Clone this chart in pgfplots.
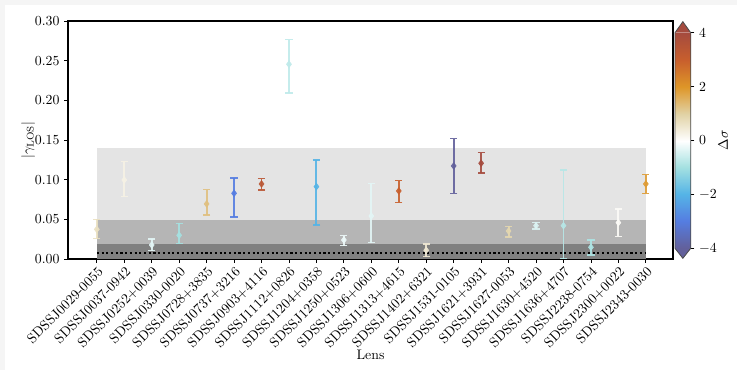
\documentclass[border=0pt]{standalone}
\usepackage{pgfplots}
\pgfplotsset{compat=1.18}

% diverging map for the Delta sigma colour scale (-4 ... 4)
\pgfplotsset{colormap={dsig}{
  rgb255(0)=(98,96,155)
  rgb255(1)=(85,125,225)
  rgb255(2)=(85,180,230)
  rgb255(3)=(165,225,225)
  rgb255(4)=(255,255,255)
  rgb255(5)=(225,210,165)
  rgb255(6)=(222,150,40)
  rgb255(7)=(200,95,45)
  rgb255(8)=(165,75,62)
}}
\definecolor{bandA}{RGB}{228,228,228}
\definecolor{bandB}{RGB}{181,181,181}
\definecolor{bandC}{RGB}{128,128,128}
\definecolor{cbtop}{RGB}{165,75,62}
\definecolor{cbbot}{RGB}{98,96,155}

\pgfplotsset{
  lens/.style={
    color of colormap={#1 of dsig},
    opacity=0.9,
    mark=diamond*, mark size=2.4bp,
    error bars/y dir=both, error bars/y explicit,
    error bars/error bar style={line width=1.4bp},
    error bars/error mark=|,
    error bars/error mark options={line width=1.1bp, mark size=2.6bp}
  }
}

\begin{document}
\begin{tikzpicture}
\fill[black!4] (0bp,0bp) rectangle (530.64bp,266.4bp);
\fill[white] (3.6bp,0bp) rectangle (530.64bp,262.8bp);

\begin{axis}[
  at={(48.96bp,79.92bp)}, anchor=south west,
  scale only axis, width=435.6bp, height=171.36bp,
  xmin=-1.05, xmax=20.99, ymin=0, ymax=0.30,
  xtick={0,...,20},
  xticklabels={SDSSJ0029-0055,SDSSJ0037-0942,SDSSJ0252+0039,SDSSJ0330-0020,
    SDSSJ0728+3835,SDSSJ0737+3216,SDSSJ0903+4116,SDSSJ1112+0826,SDSSJ1204+0358,
    SDSSJ1250+0523,SDSSJ1306+0600,SDSSJ1313+4615,SDSSJ1402+6321,SDSSJ1531-0105,
    SDSSJ1621+3931,SDSSJ1627-0053,SDSSJ1630+4520,SDSSJ1636+4707,SDSSJ2238-0754,
    SDSSJ2300+0022,SDSSJ2343-0030},
  xticklabel style={rotate=45, anchor=north east, inner sep=1.5bp},
  ytick={0,0.05,0.10,0.15,0.20,0.25,0.30},
  yticklabel style={/pgf/number format/.cd, fixed, fixed zerofill, precision=2},
  scaled y ticks=false,
  xtick pos=bottom, ytick pos=left,
  tick align=outside, major tick length=2.6bp,
  tick style={black, line width=0.6bp},
  axis line style={line width=0.8bp},
  xlabel={Lens},
  xlabel style={at={(axis description cs:0.5,-0.403)}, anchor=center},
  ylabel={$|\gamma_{\mathrm{LOS}}|$},
  ylabel style={at={(axis description cs:-0.066,0.5)}, anchor=center},
]
% reference bands
\addplot[draw=none, fill=bandA] coordinates {(0,0.14) (20,0.14)} \closedcycle;
\addplot[draw=none, fill=bandB] coordinates {(0,0.049) (20,0.049)} \closedcycle;
\addplot[draw=none, fill=bandC] coordinates {(0,0.0185) (20,0.0185)} \closedcycle;
\addplot[black, line width=1.5bp, dash pattern=on 1.5bp off 1.9bp]
  coordinates {(0,0.0072) (20,0.0072)};

% lenses: (index, |gamma_LOS|) with asymmetric errors, coloured by Delta sigma
\addplot[lens=587] coordinates {(0,0.0374) += (0,0.0126) -= (0,0.0114)};
\addplot[lens=537] coordinates {(1,0.0996) += (0,0.0231) -= (0,0.0210)};
\addplot[lens=462] coordinates {(2,0.0177) += (0,0.0075) -= (0,0.0072)};
\addplot[lens=375] coordinates {(3,0.0299) += (0,0.0151) -= (0,0.0101)};
\addplot[lens=662] coordinates {(4,0.0694) += (0,0.0180) -= (0,0.0139)};
\addplot[lens=125] coordinates {(5,0.0828) += (0,0.0190) -= (0,0.0298)};
\addplot[lens=925] coordinates {(6,0.0946) += (0,0.0067) -= (0,0.0076)};
\addplot[lens=412] coordinates {(7,0.2455) += (0,0.0310) -= (0,0.0365)};
\addplot[lens=250] coordinates {(8,0.0912) += (0,0.0333) -= (0,0.0483)};
\addplot[lens=475] coordinates {(9,0.0240) += (0,0.0054) -= (0,0.0072)};
\addplot[lens=462] coordinates {(10,0.0542) += (0,0.0408) -= (0,0.0336)};
\addplot[lens=875] coordinates {(11,0.0858) += (0,0.0130) -= (0,0.0143)};
\addplot[lens=562] coordinates {(12,0.0110) += (0,0.0080) -= (0,0.0080)};
\addplot[lens=0]   coordinates {(13,0.1173) += (0,0.0344) -= (0,0.0345)};
\addplot[lens=1000] coordinates {(14,0.1207) += (0,0.0133) -= (0,0.0123)};
\addplot[lens=612] coordinates {(15,0.0353) += (0,0.0059) -= (0,0.0076)};
\addplot[lens=450] coordinates {(16,0.0420) += (0,0.0043) -= (0,0.0042)};
\addplot[lens=400] coordinates {(17,0.0420) += (0,0.0702) -= (0,0.0420)};
\addplot[lens=387] coordinates {(18,0.0148) += (0,0.0092) -= (0,0.0098)};
\addplot[lens=512] coordinates {(19,0.0458) += (0,0.0169) -= (0,0.0172)};
\addplot[lens=737] coordinates {(20,0.0946) += (0,0.0117) -= (0,0.0118)};
\end{axis}

% colour bar with extension triangles
\begin{axis}[
  at={(486bp,87.62bp)}, anchor=south west,
  scale only axis, width=11.3bp, height=155.24bp,
  xmin=0, xmax=1, ymin=-4, ymax=4,
  colormap name=dsig,
  xtick=\empty, ytick={-4,-2,0,2,4},
  yticklabel pos=right, ytick pos=right,
  tick align=outside, major tick length=2.6bp,
  tick style={black, line width=0.6bp},
  axis line style={draw=none},
  clip=false,
  ylabel={$\Delta\sigma$},
  ylabel style={at={(axis description cs:3.06,0.5)}, anchor=center},
]
\addplot[surf, shader=interp, mesh/rows=9, point meta=y] coordinates {
  (0,-4) (1,-4)
  (0,-3) (1,-3)
  (0,-2) (1,-2)
  (0,-1) (1,-1)
  (0,0) (1,0)
  (0,1) (1,1)
  (0,2) (1,2)
  (0,3) (1,3)
  (0,4) (1,4)
};
\fill[cbtop] (axis cs:0,4) -- (axis cs:0.5,4.41) -- (axis cs:1,4) -- cycle;
\fill[cbbot] (axis cs:0,-4) -- (axis cs:0.5,-4.371) -- (axis cs:1,-4) -- cycle;
\draw[black!70, line width=0.6bp] (axis cs:0,-4) -- (axis cs:0.5,-4.371) -- (axis cs:1,-4)
  -- (axis cs:1,4) -- (axis cs:0.5,4.41) -- (axis cs:0,4) -- cycle;
\end{axis}
\end{tikzpicture}
\end{document}
